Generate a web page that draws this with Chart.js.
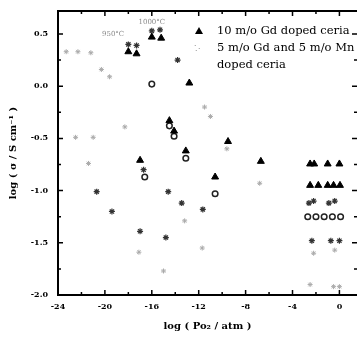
<!DOCTYPE html>
<html>
<head>
<meta charset="utf-8">
<script src="https://cdn.jsdelivr.net/npm/chart.js@4.4.1/dist/chart.umd.min.js"></script>
<style>
html,body{margin:0;padding:0;background:#fff;}
#c{display:block;}
</style>
</head>
<body>
<canvas id="c" width="357" height="337"></canvas>
<script>
// ---- data ----
const xTickLabels = ["-24","-20","-16","-12","-8","-4","0"];
const yTickLabels = ["-2.0","-1.5","-1.0","-0.5","0.0","0.5"];

// 10 m/o Gd doped ceria (filled triangles)
const gdX = [-18.0,-17.3,-16.0,-15.2,-12.8,-14.5,-14.1,-13.1,-9.5,-10.6,-6.7,-17.0,-2.5,-2.15,-1.0,0.0,-2.5,-1.8,-1.0,-0.5,0.05];
const gdY = [0.33,0.31,0.47,0.46,0.03,-0.33,-0.43,-0.62,-0.53,-0.87,-0.72,-0.71,-0.745,-0.745,-0.745,-0.745,-0.95,-0.95,-0.95,-0.95,-0.95];

// 5 m/o Gd and 5 m/o Mn doped ceria (open circles)
const mnX = [-16.0,-14.5,-14.1,-13.1,-10.6,-16.6,-2.7,-2.0,-1.3,-0.6,0.1];
const mnY = [0.02,-0.38,-0.48,-0.69,-1.03,-0.87,-1.25,-1.25,-1.25,-1.25,-1.25];

// asterisk marks (dark)
const astX = [-18.0,-17.3,-16.0,-15.3,-13.8,-2.35,-0.73,0.0,-16.7,-13.45,-11.65,-20.7,-14.6,-17.0,-14.8,-19.4,-2.6,-2.2,-0.9,-0.4];
const astY = [0.40,0.39,0.53,0.54,0.25,-1.48,-1.48,-1.48,-0.80,-1.12,-1.18,-1.01,-1.01,-1.39,-1.45,-1.20,-1.12,-1.10,-1.12,-1.10];

// faint marks
const faintX = [-23.3,-22.3,-21.2,-20.3,-19.6,-18.3,-22.5,-21.0,-11.5,-11.0,-9.6,-6.8,-21.4,-17.1,-15.0,-13.2,-11.7,-2.2,-0.4,-2.5,-0.5,0.0];
const faintY = [0.33,0.33,0.32,0.16,0.09,-0.39,-0.49,-0.49,-0.20,-0.29,-0.60,-0.93,-0.74,-1.59,-1.77,-1.29,-1.55,-1.60,-1.57,-1.90,-1.92,-1.92];

const toPts = (xs, ys) => xs.map((x, i) => ({x: x, y: ys[i]}));

const SERIF = '"DejaVu Serif", "Liberation Serif", serif';

const framePlugin = {
  id: 'frame',
  afterDraw(chart) {
    const ctx = chart.ctx;
    const a = chart.chartArea;
    const xs = chart.scales.x, ys = chart.scales.y;
    ctx.save();
    ctx.strokeStyle = '#000';
    ctx.lineWidth = 2;
    ctx.beginPath();
    ctx.moveTo(a.left, a.top); ctx.lineTo(a.right, a.top);
    ctx.moveTo(a.left, a.top - 1); ctx.lineTo(a.left, a.bottom + 1);
    ctx.moveTo(a.left, a.bottom); ctx.lineTo(a.right, a.bottom);
    ctx.stroke();
    ctx.lineWidth = 1.5;
    ctx.beginPath();
    for (let v = -24; v <= 1.5; v += 2) {
      const p = xs.getPixelForValue(v);
      const len = (v % 4 === 0) ? 5 : 3;
      ctx.moveTo(p, a.bottom); ctx.lineTo(p, a.bottom - len);
      ctx.moveTo(p, a.top); ctx.lineTo(p, a.top + len);
    }
    for (let v = -2; v <= 0.72; v += 0.25) {
      const p = ys.getPixelForValue(v);
      const major = Math.abs(v * 2 - Math.round(v * 2)) < 1e-6;
      const len = major ? 5 : 3;
      ctx.moveTo(a.left, p); ctx.lineTo(a.left + len, p);
      ctx.moveTo(a.right, p); ctx.lineTo(a.right - len, p);
    }
    ctx.stroke();

    // legend
    ctx.fillStyle = '#000';
    ctx.font = '11.5px ' + SERIF;
    ctx.textBaseline = 'middle';
    ctx.textAlign = 'left';
    ctx.fillText('10 m/o Gd doped ceria', 217, 31);
    ctx.fillText('5 m/o Gd and 5 m/o Mn', 217, 48);
    ctx.fillText('doped ceria', 217, 65);
    // legend markers
    ctx.beginPath();
    ctx.moveTo(199, 27); ctx.lineTo(203, 34); ctx.lineTo(195, 34); ctx.closePath();
    ctx.fill();
    ctx.strokeStyle = '#999';
    ctx.lineWidth = 1;
    ctx.beginPath();
    ctx.moveTo(195, 45); ctx.lineTo(195.5, 46);
    ctx.moveTo(199, 48); ctx.lineTo(199.5, 49);
    ctx.moveTo(196, 50); ctx.lineTo(196.5, 51);
    ctx.stroke();

    // temperature annotations
    ctx.fillStyle = '#888';
    ctx.font = '7px ' + SERIF;
    ctx.textAlign = 'center';
    ctx.fillText('950°C', xs.getPixelForValue(-19.3), ys.getPixelForValue(0.50));
    ctx.fillText('1000°C', xs.getPixelForValue(-16.0), ys.getPixelForValue(0.61));
    ctx.restore();
  }
};

const tickFont = {family: SERIF, size: 8, weight: 'bold'};
const titleFont = {family: SERIF, size: 10, weight: 'bold'};

new Chart(document.getElementById('c'), {
  type: 'scatter',
  data: {
    datasets: [
      {label: '10 m/o Gd doped ceria', data: toPts(gdX, gdY), pointStyle: 'triangle', pointRadius: 4, backgroundColor: '#000', borderColor: '#000', borderWidth: 1},
      {label: '5 m/o Gd and 5 m/o Mn doped ceria', data: toPts(mnX, mnY), pointStyle: 'circle', pointRadius: 2.8, backgroundColor: '#fff', borderColor: '#222', borderWidth: 1.5},
      {label: 'asterisk', data: toPts(astX, astY), pointStyle: 'star', pointRadius: 3, backgroundColor: '#333', borderColor: '#333', borderWidth: 1.2},
      {label: 'faint', data: toPts(faintX, faintY), pointStyle: 'star', pointRadius: 2.5, backgroundColor: '#aaa', borderColor: '#aaa', borderWidth: 1}
    ]
  },
  options: {
    responsive: false,
    animation: false,
    devicePixelRatio: 1,
    layout: {autoPadding: false, padding: {top: 11, right: 0, left: 0, bottom: 0}},
    plugins: {legend: {display: false}, tooltip: {enabled: false}},
    scales: {
      x: {
        type: 'linear', min: -24, max: 1.5,
        grid: {display: false, drawTicks: false},
        border: {display: false},
        ticks: {
          stepSize: 4, includeBounds: false, padding: 7, autoSkip: false, maxRotation: 0,
          color: '#000', font: tickFont,
          callback: (v) => { const i = (v + 24) / 4; return Number.isInteger(i) && xTickLabels[i] !== undefined ? xTickLabels[i] : ''; }
        },
        title: {display: true, text: 'log ( Po\u2082 / atm )', color: '#000', font: titleFont, padding: {top: 0, bottom: 5}},
        afterFit: (s) => { s.height = 42; s.paddingRight = 0; s.paddingLeft = 0; }
      },
      y: {
        type: 'linear', min: -2.0, max: 0.72,
        grid: {display: false, drawTicks: false},
        border: {display: false},
        ticks: {
          stepSize: 0.5, includeBounds: false, padding: 10, autoSkip: false,
          color: '#000', font: tickFont,
          callback: (v) => { const i = Math.round((v + 2) / 0.5); return yTickLabels[i] !== undefined ? yTickLabels[i] : ''; }
        },
        title: {display: true, text: 'log ( \u03C3 / S cm\u207B\u00B9 )', color: '#000', font: titleFont, padding: {top: 7, bottom: 0}},
        afterFit: (s) => { s.width = 58; s.paddingTop = 0; s.paddingBottom = 0; }
      }
    }
  },
  plugins: [framePlugin]
});
</script>
</body>
</html>
